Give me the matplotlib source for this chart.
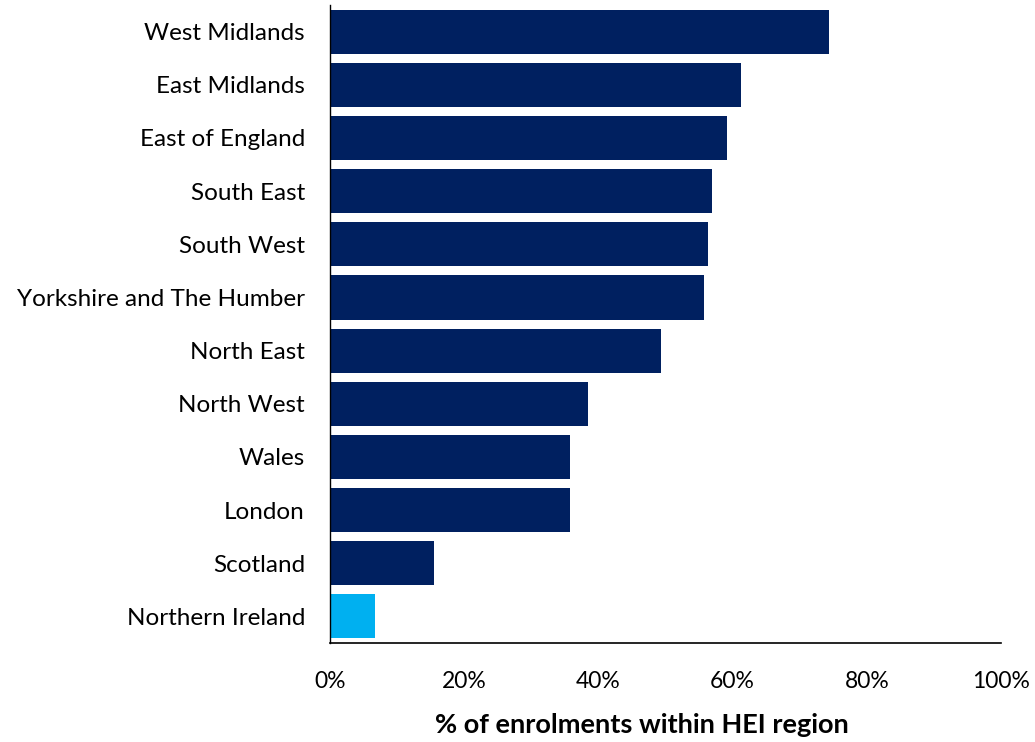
import matplotlib.pyplot as plt
from matplotlib.ticker import PercentFormatter

plt.rcParams['font.family'] = ['Lato', 'DejaVu Sans']

# Anteil der Einschreibungen innerhalb der HEI-Region (%)
regions = ['West Midlands', 'East Midlands', 'East of England', 'South East',
           'South West', 'Yorkshire and The Humber', 'North East', 'North West',
           'Wales', 'London', 'Scotland', 'Northern Ireland']
values = [74.3, 61.2, 59.1, 57.0, 56.3, 55.7, 49.4, 38.5, 35.8, 35.8, 15.5, 6.7]
colors = ['#002060'] * 11 + ['#00B0F0']

fig = plt.figure(figsize=(10.35, 7.42), dpi=100)
ax = fig.add_axes([0.3188, 0.1334, 0.6483, 0.8598])

ax.barh(range(len(regions)), values, height=0.83, color=colors)
ax.set_ylim(len(regions) - 0.5, -0.5)
ax.set_xlim(0, 100)
ax.set_yticks(range(len(regions)))
ax.set_yticklabels(regions, fontsize=17.5)
ax.set_xticks(range(0, 101, 20))
ax.xaxis.set_major_formatter(PercentFormatter(decimals=0))
ax.tick_params(axis='x', labelsize=16.5, length=0, pad=20)
ax.tick_params(axis='y', length=0, pad=18)

for side in ['top', 'right']:
    ax.spines[side].set_visible(False)
ax.spines['left'].set_linewidth(1)
ax.spines['bottom'].set_linewidth(1.2)

ax.set_xlabel('% of enrolments within HEI region', fontsize=19.5,
              fontweight='bold', labelpad=15)
ax.xaxis.label.set_x(0.465)

fig.savefig('out.png', dpi=100)
